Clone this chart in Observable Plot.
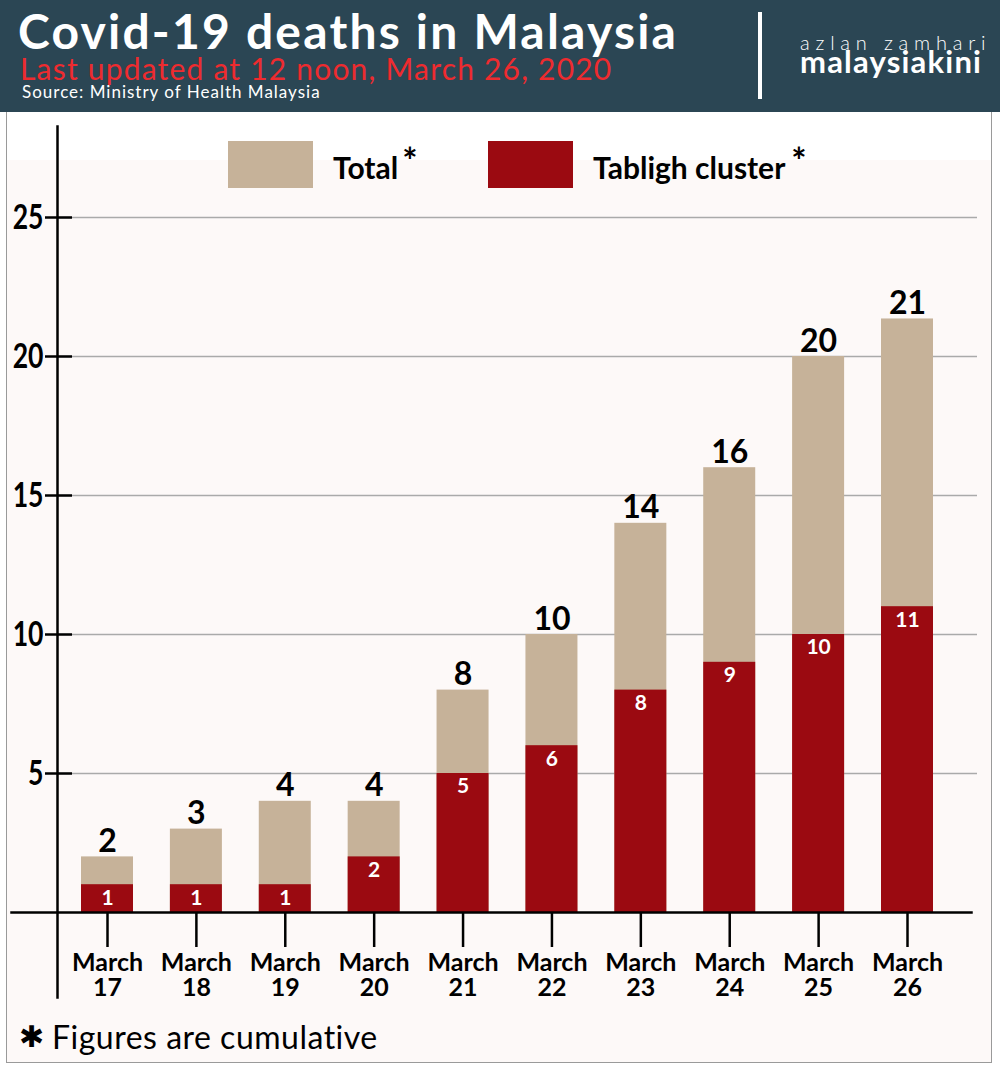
<!DOCTYPE html>
<html>
<head>
<meta charset="utf-8">
<script src="https://cdn.jsdelivr.net/npm/d3@7"></script>
<script src="https://cdn.jsdelivr.net/npm/@observablehq/plot@0.6"></script>
<style>
  body { margin: 0; background: #fff; font-family: Lato, "Open Sans", sans-serif; }
  #page { position: relative; width: 1000px; height: 1072px; overflow: hidden; background: #fff; }
  #header { position: absolute; left: 0; top: 0; width: 1000px; height: 112px; background: #2b4654; }
  .t { position: absolute; white-space: nowrap; }
  #frame { position: absolute; left: 6px; top: 112px; width: 984px; height: 950px;
           border: 1.5px solid #9a9a9a; border-top: none;
           background: linear-gradient(to bottom, #ffffff 0px, #ffffff 48px, #fdf9f8 48px); }
  #chart { position: absolute; left: 0; top: 112px; }
  .sw { position: absolute; }
  .ast { position: relative; top: -5px; font-size: 36px; }
</style>
</head>
<body>
<div id="page">
  <div id="header">
    <div class="t" id="title" style="left:18px;top:12px;font-size:48px;line-height:38px;font-weight:700;color:#fff;letter-spacing:2.2px;">Covid-19 deaths in Malaysia</div>
    <div class="t" id="subtitle" style="left:20px;top:56px;font-size:30px;line-height:24px;font-weight:400;color:#ee2b2f;letter-spacing:1.2px;">Last updated at 12 noon, March 26, 2020</div>
    <div class="t" id="source" style="left:22px;top:85px;font-size:17px;line-height:14px;font-weight:400;color:#fff;letter-spacing:1px;">Source: Ministry of Health Malaysia</div>
    <div class="sw" style="left:758px;top:12px;width:4px;height:87px;background:#fff;"></div>
    <div class="t" style="left:800px;top:34px;font-size:20px;line-height:16px;font-weight:300;color:#fff;letter-spacing:5.8px;">azlan zamhari</div>
    <div class="t" style="left:800px;top:49px;font-size:31px;line-height:24px;font-weight:700;color:#fff;letter-spacing:1.2px;">malaysiakini</div>
  </div>
  <div id="frame"></div>
  <div id="chart"></div>
  <div class="sw" style="left:228px;top:141px;width:85px;height:47px;background:#c6b299;"></div>
  <div class="t" style="left:333px;top:150px;font-size:30px;line-height:30px;font-weight:700;color:#000;">Total<span class="ast" style="margin-left:4px;">*</span></div>
  <div class="sw" style="left:488px;top:141px;width:85px;height:47px;background:#9b0a11;"></div>
  <div class="t" style="left:593px;top:150px;font-size:30px;line-height:30px;font-weight:700;color:#000;">Tabligh cluster<span class="ast" style="margin-left:6px;">*</span></div>
  <div class="t" style="left:19px;top:1022px;font-size:30px;line-height:30px;font-family:'DejaVu Sans';font-weight:700;color:#000;">✱</div>
  <div class="t" style="left:52px;top:1021px;font-size:32px;line-height:32px;font-weight:400;color:#000;letter-spacing:0.5px;">Figures are cumulative</div>
</div>
<script>
const dates = ["March 17", "March 18", "March 19", "March 20", "March 21",
               "March 22", "March 23", "March 24", "March 25", "March 26"];
const totals = [2, 3, 4, 4, 8, 10, 14, 16, 20, 21.35];   // last bar is drawn slightly above 21 in the source
const totalLabels = ["2", "3", "4", "4", "8", "10", "14", "16", "20", "21"];
const tabligh = [1, 1, 1, 2, 5, 6, 8, 9, 10, 11];
const yTicks = [5, 10, 15, 20, 25];

const data = dates.map((d, i) => ({date: d, total: totals[i], label: totalLabels[i], tabligh: tabligh[i]}));

const chart = Plot.plot({
  width: 1000,
  height: 900,
  marginLeft: 57,
  marginRight: 43,
  marginTop: 105,
  marginBottom: 100,
  style: {background: "transparent", fontFamily: "Lato, sans-serif", color: "#000"},
  x: {type: "band", domain: dates, paddingInner: 0.415, paddingOuter: 0.27, round: false, axis: null},
  y: {domain: [0, 25], axis: null},
  marks: [
    Plot.ruleY(yTicks, {stroke: "#aaaaaa", strokeWidth: 1.6, insetRight: -20}),
    Plot.barY(data, {x: "date", y: "total", fill: "#c6b299"}),
    Plot.barY(data, {x: "date", y: "tabligh", fill: "#9b0a11"}),
    Plot.text(data, {x: "date", y: "total", text: "label", lineAnchor: "bottom", dy: -5,
                     fontSize: 32, fontWeight: 700, fill: "#000"}),
    Plot.text(data, {x: "date", y: "tabligh", text: d => String(d.tabligh), lineAnchor: "top", dy: 5,
                     fontSize: 21, fontWeight: 700, fill: "#fff"}),
    Plot.ruleY(yTicks, {stroke: "#000", strokeWidth: 2.5, insetRight: 885}),
    Plot.axisY({ticks: yTicks, label: null, tickSize: 12, tickPadding: 2, fontSize: 35, fontWeight: 700,
                stroke: "#000", fill: "#000", strokeWidth: 2.5}),
    Plot.axisX({label: null, tickSize: 35, tickPadding: 6, fontSize: 25, fontWeight: 700, lineHeight: 1.0,
                tickFormat: d => d.replace(" ", "\n"), stroke: "#000", fill: "#000", strokeWidth: 2.5}),
    Plot.frame({anchor: "left", insetTop: -91, insetBottom: -85, stroke: "#000", strokeWidth: 2.5}),
    Plot.frame({anchor: "bottom", insetLeft: -46, insetRight: -14, stroke: "#000", strokeWidth: 2.5})
  ]
});
// condense the y-axis tick labels like the reference's narrow numerals
d3.select(chart).selectAll("g[aria-label='y-axis tick label'] text").each(function() {
  const t = this.getAttribute("transform") || "";
  this.setAttribute("transform", t + " scale(0.76,1)");
});
document.getElementById("chart").appendChild(chart);
</script>
</body>
</html>
